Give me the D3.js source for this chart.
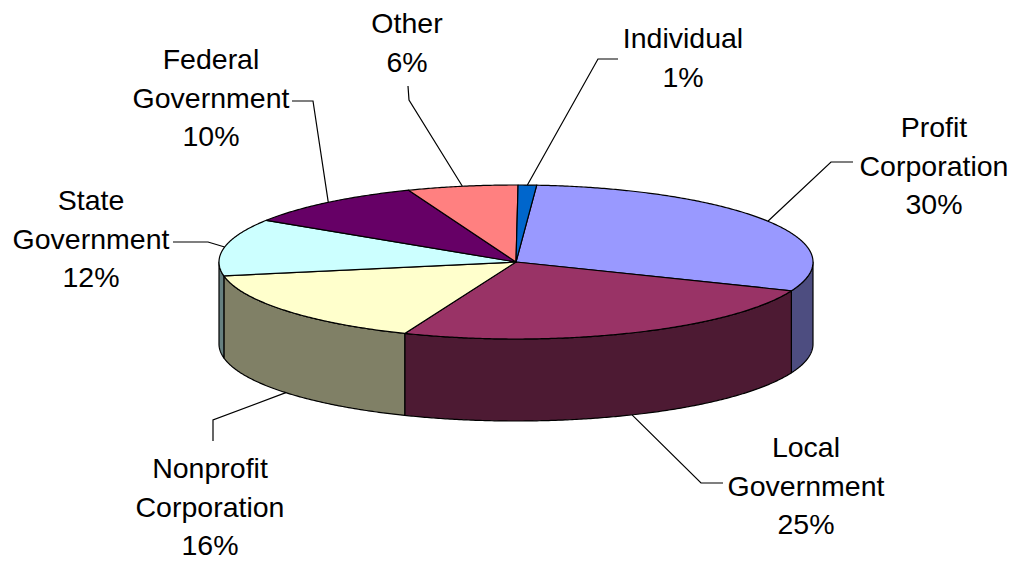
<!DOCTYPE html>
<html>
<head>
<meta charset="utf-8">
<script src="https://cdn.jsdelivr.net/npm/d3@7"></script>
<style>
  html, body { margin: 0; padding: 0; background: #ffffff; }
  svg { display: block; }
  text { font-family: "Liberation Sans", Arial, sans-serif; font-size: 28.5px; fill: #000; }
</style>
</head>
<body>
<svg id="chart" width="1016" height="561"></svg>
<script>
// Share of projects by sponsor type
const categories = ["Profit Corporation", "Local Government", "Nonprofit Corporation",
                    "State Government", "Federal Government", "Other", "Individual"];
const shares = [30, 25, 16, 12, 10, 6, 1];
const labelLines = [["Profit", "Corporation"], ["Local", "Government"], ["Nonprofit", "Corporation"],
                    ["State", "Government"], ["Federal", "Government"], ["Other"], ["Individual"]];

// Excel-style palette: top faces and their shaded sides
const topColors  = ["#9999FF", "#993366", "#FFFFCC", "#CCFFFF", "#660066", "#FF8080", "#0066CC"];
const sideColors = ["#4D4D80", "#4D1A33", "#808066", "#668080", "#330033", "#804040", "#003366"];

// Label placement: text centre, first baseline, leader start and elbow
const labelLayout = [
  { x: 934, y: 137, start: [853, 162], elbow: [831, 162] },
  { x: 806, y: 457, start: [723, 483], elbow: [701, 483] },
  { x: 210, y: 478, start: [213, 441], elbow: [213, 420] },
  { x: 91,  y: 210, start: [173, 242], elbow: [208, 242] },
  { x: 211, y: 69,  start: [292, 101], elbow: [313, 101] },
  { x: 407, y: 33,  start: [408, 86],  elbow: [409, 100] },
  { x: 683, y: 48,  start: [618, 59],  elbow: [598, 59] }
];

const svg = d3.select("#chart");
const lineHeight = 38.5;

// Tilted disc geometry
const cx = 516, cy = 262, rx = 297, ry = 77, depth = 82;
const firstSliceAngle = 4 * Math.PI / 180;

const sx = d3.scaleLinear().domain([-1, 1]).range([cx - rx, cx + rx]);
const sy = d3.scaleLinear().domain([-1, 1]).range([cy + ry, cy - ry]);
const proj = (t, drop = 0) => [sx(Math.sin(t)), sy(Math.cos(t)) + drop];

const arcs = d3.pie().sort(null).value(d => d)
  .startAngle(firstSliceAngle).endAngle(firstSliceAngle + 2 * Math.PI)(shares);

const sample = (a, b) => {
  const n = Math.max(2, Math.ceil(Math.abs(b - a) / 0.008));
  return d3.range(n + 1).map(i => a + (b - a) * i / n);
};
const line = d3.line();

// Side walls on the visible front half
const frontA = Math.PI / 2, frontB = 3 * Math.PI / 2;
const sides = svg.append("g");
arcs.forEach((d, i) => {
  const a = Math.max(d.startAngle, frontA), b = Math.min(d.endAngle, frontB);
  if (b <= a) return;
  const topPts = sample(a, b).map(t => proj(t));
  const botPts = sample(b, a).map(t => proj(t, depth));
  sides.append("path")
    .attr("d", line(topPts.concat(botPts)) + "Z")
    .attr("fill", sideColors[i])
    .attr("stroke", "#000")
    .attr("stroke-width", 1.2)
    .attr("stroke-linejoin", "round");
});

// Top faces
const tops = svg.append("g");
arcs.forEach((d, i) => {
  const pts = [[cx, cy]].concat(sample(d.startAngle, d.endAngle).map(t => proj(t)));
  tops.append("path")
    .attr("d", line(pts) + "Z")
    .attr("fill", topColors[i])
    .attr("stroke", "#000")
    .attr("stroke-width", 1.2)
    .attr("stroke-linejoin", "round");
});

// Leader lines to each slice's mid-angle
const leaders = svg.append("g");
arcs.forEach((d, i) => {
  const mid = (d.startAngle + d.endAngle) / 2;
  const m = ((mid % (2 * Math.PI)) + 2 * Math.PI) % (2 * Math.PI);
  const onFront = m > frontA && m < frontB;
  const end = proj(mid, onFront ? depth : 0);
  const L = labelLayout[i];
  leaders.append("path")
    .attr("d", line([L.start, L.elbow, end]))
    .attr("fill", "none")
    .attr("stroke", "#000")
    .attr("stroke-width", 1.2);
});

// Labels: name lines plus percentage
const labels = svg.append("g");
arcs.forEach((d, i) => {
  const L = labelLayout[i];
  const rows = labelLines[i].concat([shares[i] + "%"]);
  const t = labels.append("text").attr("text-anchor", "middle");
  rows.forEach((r, k) => {
    t.append("tspan").attr("x", L.x).attr("y", L.y + k * lineHeight).text(r);
  });
});
</script>
</body>
</html>
